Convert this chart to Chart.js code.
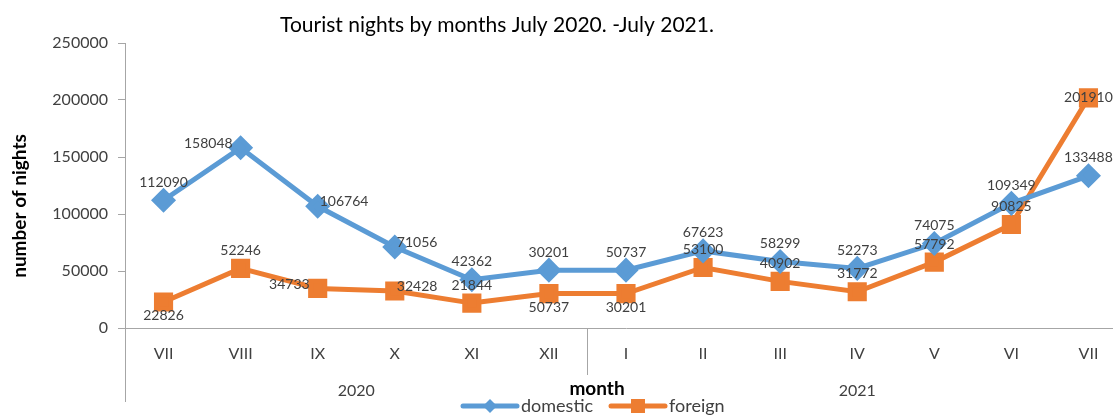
<!DOCTYPE html>
<html>
<head>
<meta charset="utf-8">
<script src="https://cdn.jsdelivr.net/npm/chart.js@4/dist/chart.umd.min.js"></script>
<style>
  html, body { margin: 0; padding: 0; background: #fff; overflow: hidden; }
  #graph-parent { width: 1142px; height: 415px; }
</style>
</head>
<body>
<div id="graph-parent">
  <canvas id="graph" width="1142" height="415"></canvas>
</div>
<script>
// data
const months = ['VII', 'VIII', 'IX', 'X', 'XI', 'XII', 'I', 'II', 'III', 'IV', 'V', 'VI', 'VII'];
const years = ['2020', '2021'];
const yearStart = [0, 6];
const yearEnd = [5, 12];
const domestic = [112090, 158048, 106764, 71056, 42362, 50737, 50737, 67623, 58299, 52273, 74075, 109349, 133488];
const foreign = [22826, 52246, 34733, 32428, 21844, 30201, 30201, 53100, 40902, 31772, 57792, 90825, 201910];
// labels as printed on the original (XII ones are swapped there)
const domesticText = ['112090', '158048', '106764', '71056', '42362', '30201', '50737', '67623', '58299', '52273', '74075', '109349', '133488'];
const foreignText = ['22826', '52246', '34733', '32428', '21844', '50737', '30201', '53100', '40902', '31772', '57792', '90825', '201910'];
const yTicks = [0, 50000, 100000, 150000, 200000, 250000];

const FONT = 'Lato, "Noto Sans", sans-serif';
const GREY = '#404040';
const AXIS = '#a6a6a6';

// where each label sits relative to its point
const domesticPos = ['t', 'l', 'r', 'r', 't', 't', 't', 't', 't', 't', 't', 't', 't'];
const foreignPos = ['b', 't', 'l', 'r', 't', 'b', 'b', 't', 't', 't', 't', 't', 'c'];

const extras = {
  id: 'extras',
  afterDatasetsDraw(chart) {
    const ctx = chart.ctx;
    const area = chart.chartArea;
    const x = chart.scales.x;
    ctx.save();

    // title
    ctx.fillStyle = '#000';
    ctx.font = '21px ' + FONT;
    ctx.textAlign = 'center';
    ctx.textBaseline = 'middle';
    ctx.fillText('Tourist nights by months July 2020. -July 2021.', 497, 25);

    // y title
    ctx.save();
    ctx.translate(20, 206);
    ctx.rotate(-Math.PI / 2);
    ctx.font = 'bold 19px ' + FONT;
    ctx.fillText('number of nights', 0, 0);
    ctx.restore();

    // longer y axis line + year separator
    ctx.strokeStyle = AXIS;
    ctx.lineWidth = 1;
    ctx.beginPath();
    ctx.moveTo(area.left + 0.5, area.bottom);
    ctx.lineTo(area.left + 0.5, 402);
    const sep = (x.getPixelForValue(5) + x.getPixelForValue(6)) / 2;
    ctx.moveTo(Math.round(sep) + 0.5, area.bottom);
    ctx.lineTo(Math.round(sep) + 0.5, 375);
    ctx.stroke();

    // year labels
    ctx.fillStyle = GREY;
    ctx.font = '16px ' + FONT;
    years.forEach((yr, i) => {
      const cx = (x.getPixelForValue(yearStart[i]) + x.getPixelForValue(yearEnd[i])) / 2;
      ctx.fillText(yr, cx, 391);
    });

    // x title
    ctx.fillStyle = '#000';
    ctx.font = 'bold 19px ' + FONT;
    ctx.fillText('month', 597, 389);

    // data labels
    ctx.fillStyle = GREY;
    ctx.font = '14px ' + FONT;
    const texts = [domesticText, foreignText];
    const pos = [domesticPos, foreignPos];
    chart.data.datasets.forEach((ds, d) => {
      chart.getDatasetMeta(d).data.forEach((pt, i) => {
        const p = pos[d][i];
        let tx = pt.x, ty = pt.y, align = 'center';
        if (p === 't') ty = pt.y - 18;
        if (p === 'b') ty = pt.y + 14;
        if (p === 'l') { tx = pt.x - 8; ty = pt.y - 4; align = 'right'; }
        if (p === 'r') { tx = pt.x + 2; ty = pt.y - 5; align = 'left'; }
        ctx.textAlign = align;
        ctx.fillText(texts[d][i], tx, ty);
      });
    });

    // legend
    const items = [[463, 0], [611, 1]];
    ctx.font = '18px ' + FONT;
    ctx.textAlign = 'left';
    items.forEach(([lx, d]) => {
      const ds = chart.data.datasets[d];
      ctx.strokeStyle = ds.borderColor;
      ctx.lineWidth = 5;
      ctx.lineCap = 'round';
      ctx.beginPath();
      ctx.moveTo(lx, 406);
      ctx.lineTo(lx + 54, 406);
      ctx.stroke();
      ctx.fillStyle = ds.borderColor;
      ctx.beginPath();
      if (ds.pointStyle === 'rectRot') {
        ctx.moveTo(lx + 27, 399); ctx.lineTo(lx + 34, 406);
        ctx.lineTo(lx + 27, 413); ctx.lineTo(lx + 20, 406);
      } else {
        ctx.rect(lx + 20, 399, 14, 14);
      }
      ctx.fill();
      ctx.fillStyle = GREY;
      ctx.fillText(ds.label, lx + 58, 406);
    });
    ctx.restore();
  }
};

new Chart(document.getElementById('graph').getContext('2d'), {
  type: 'line',
  data: {
    labels: months,
    datasets: [{
      label: 'domestic',
      data: domestic,
      borderColor: '#5b9bd5',
      backgroundColor: '#5b9bd5',
      borderWidth: 5,
      pointStyle: 'rectRot',
      pointRadius: 9,
      pointHoverRadius: 9,
      tension: 0
    }, {
      label: 'foreign',
      data: foreign,
      borderColor: '#ed7d31',
      backgroundColor: '#ed7d31',
      borderWidth: 5,
      pointStyle: 'rect',
      pointRadius: 10,
      pointHoverRadius: 10,
      tension: 0
    }]
  },
  options: {
    responsive: false,
    animation: false,
    devicePixelRatio: 1,
    layout: { padding: { top: 43, left: 0, right: 0, bottom: 0 } },
    plugins: {
      legend: { display: false },
      title: { display: false },
      tooltip: { enabled: false }
    },
    scales: {
      x: {
        offset: true,
        grid: { display: true, drawOnChartArea: false, drawTicks: true, tickLength: 16, color: 'rgba(0,0,0,0)' },
        border: { display: true, color: AXIS, width: 1 },
        ticks: { color: GREY, font: { family: FONT, size: 16 }, padding: 0, maxRotation: 0, autoSkip: false },
        afterFit(s) { s.height = 87; }
      },
      y: {
        min: 0,
        max: 250000,
        afterBuildTicks(s) { s.ticks = yTicks.map(v => ({ value: v })); },
        grid: { drawOnChartArea: false, drawTicks: true, tickLength: 7, color: AXIS },
        border: { display: true, color: AXIS, width: 1 },
        ticks: { color: GREY, font: { family: FONT, size: 16 }, padding: 10, callback: v => String(v) },
        afterFit(s) { s.width = 125; }
      }
    }
  },
  plugins: [extras]
});
</script>
</body>
</html>
